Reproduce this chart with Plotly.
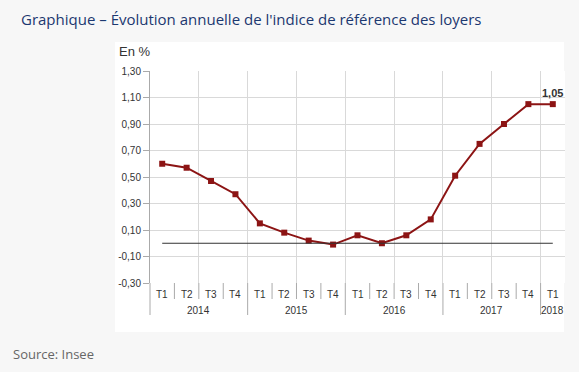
import plotly.graph_objects as go

# ---- data ----
years = ["2014", "2015", "2016", "2017", "2018"]
quarters = ["T1", "T2", "T3", "T4", "T1", "T2", "T3", "T4", "T1", "T2", "T3", "T4",
            "T1", "T2", "T3", "T4", "T1"]
quarter_years = ["2014"] * 4 + ["2015"] * 4 + ["2016"] * 4 + ["2017"] * 4 + ["2018"]
irl_values = [0.60, 0.57, 0.47, 0.37, 0.15, 0.08, 0.02, -0.01, 0.06, 0.00, 0.06, 0.18,
              0.51, 0.75, 0.90, 1.05, 1.05]
y_tickvals = [-0.30, -0.10, 0.10, 0.30, 0.50, 0.70, 0.90, 1.10, 1.30]
y_ticktext = ["-0,30", "-0,10", "0,10", "0,30", "0,50", "0,70", "0,90", "1,10", "1,30"]

W, H = 579, 372
L, R, T, B = 150, 565, 71, 283  # plot area in pixels


def px_x(p):
    return (p - L) / (R - L)


def px_y(p):
    return (B - p) / (B - T)


n = len(quarters)
xs = list(range(n))

FONT = "Liberation Sans, Arial, sans-serif"
RED = "#8c1414"

fig = go.Figure()
fig.add_trace(go.Scatter(
    x=xs, y=irl_values, mode="lines+markers",
    line=dict(color=RED, width=2),
    marker=dict(symbol="square", size=6, color=RED),
    hoverinfo="skip", showlegend=False,
))

shapes = []
# white panel
shapes.append(dict(type="rect", xref="paper", yref="paper", layer="below",
                   x0=px_x(115), x1=px_x(564), y0=px_y(332), y1=px_y(42),
                   fillcolor="white", line=dict(width=0)))
# zero line from first to last category
shapes.append(dict(type="line", xref="x", yref="y", x0=xs[0], x1=xs[-1], y0=0, y1=0,
                   line=dict(color="#333333", width=1)))
# category separators below the axis
for i in range(1, n):
    b = i - 0.5
    is_year = quarter_years[i] != quarter_years[i - 1]
    shapes.append(dict(type="line", xref="x", yref="paper", x0=b, x1=b,
                       y0=px_y(315 if is_year else 299), y1=0,
                       line=dict(color="#aaaaaa", width=1)))
# y axis extension downward
shapes.append(dict(type="line", xref="paper", yref="paper", x0=0, x1=0,
                   y0=px_y(315), y1=0, line=dict(color="#aaaaaa", width=1)))

annotations = []
for i, q in enumerate(quarters):
    annotations.append(dict(x=i, y=px_y(294), xref="x", yref="paper", text=q,
                            showarrow=False, font=dict(family=FONT, size=10, color="#333333"),
                            xanchor="center", yanchor="middle"))
for yr in years:
    idx = [i for i, v in enumerate(quarter_years) if v == yr]
    cx = (idx[0] + idx[-1]) / 2
    annotations.append(dict(x=cx, y=px_y(310), xref="x", yref="paper", text=yr,
                            showarrow=False, font=dict(family=FONT, size=10, color="#333333"),
                            xanchor="center", yanchor="middle"))
# last value label
annotations.append(dict(x=xs[-1], y=irl_values[-1], xref="x", yref="y",
                        text="<b>" + f"{irl_values[-1]:.2f}".replace(".", ",") + "</b>",
                        showarrow=False, yshift=11,
                        font=dict(family=FONT, size=11, color="#333333")))
# unit label
annotations.append(dict(x=px_x(135), y=px_y(51), xref="paper", yref="paper", text="En %",
                        showarrow=False, xanchor="center", yanchor="middle",
                        font=dict(family=FONT, size=13, color="#333333")))
# title
annotations.append(dict(x=px_x(19), y=px_y(19), xref="paper", yref="paper",
                        text="Graphique – Évolution annuelle de l'indice de référence des loyers",
                        showarrow=False, xanchor="left", yanchor="middle",
                        font=dict(family="Open Sans, sans-serif", size=15, color="#1c3870")))
# source
annotations.append(dict(x=px_x(11), y=px_y(354), xref="paper", yref="paper",
                        text="Source: Insee",
                        showarrow=False, xanchor="left", yanchor="middle",
                        font=dict(family="Open Sans, sans-serif", size=13, color="#666666")))

fig.update_layout(
    width=W, height=H,
    margin=dict(l=L, r=W - R, t=T, b=H - B, pad=0),
    paper_bgcolor="#f7f7f7",
    plot_bgcolor="white",
    shapes=shapes,
    annotations=annotations,
    xaxis=dict(range=[-0.5, n - 0.5], tickvals=[i + 0.5 for i in range(1, n - 1, 2)],
               showticklabels=False, ticks="", showgrid=True, gridcolor="#d9d9d9",
               zeroline=False, showline=False, fixedrange=True),
    yaxis=dict(range=[-0.30, 1.30], tickvals=y_tickvals, ticktext=y_ticktext,
               showgrid=True, gridcolor="#d9d9d9", zeroline=False,
               showline=True, linecolor="#aaaaaa", ticks="outside", ticklen=6,
               tickcolor="#aaaaaa", tickfont=dict(family=FONT, size=10, color="#333333"),
               fixedrange=True),
)

fig.write_html("out.html", config={"displayModeBar": False},
               post_script="document.body.style.margin='0';document.body.style.overflow='hidden';")
